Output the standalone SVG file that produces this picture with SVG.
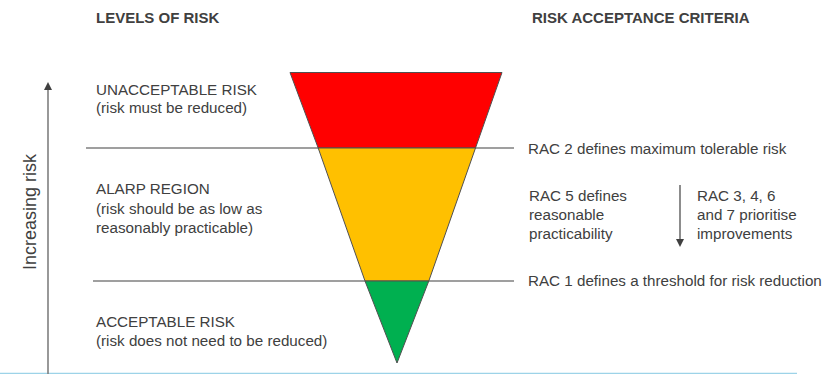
<svg xmlns="http://www.w3.org/2000/svg" width="826" height="374" viewBox="0 0 826 374">
<style>
text{font-family:"Liberation Sans",Arial,sans-serif;fill:#404040;font-size:15.2px}
.h{font-weight:bold;font-size:15px}
.ln{stroke:#7f7f7f;stroke-width:1.3;fill:none}
.tri{stroke:#505050;stroke-width:1}
</style>
<defs>
<marker id="ah" markerWidth="8" markerHeight="8" refX="4" refY="4" orient="auto" markerUnits="userSpaceOnUse">
<path d="M0,0 L8,4 L0,8 z" fill="#404040"/>
</marker>
</defs>
<rect x="0" y="0" width="826" height="374" fill="#fff"/>
<line x1="0" y1="373.5" x2="797" y2="373.5" stroke="#9dd3e8" stroke-width="1.5"/>
<g id="headers">
<text class="h" x="96" y="23">LEVELS OF RISK</text>
<text class="h" x="532" y="23">RISK ACCEPTANCE CRITERIA</text>
</g>
<g id="connectors">
<line class="ln" x1="86" y1="148" x2="514" y2="148"/>
<line class="ln" x1="93" y1="281" x2="514" y2="281"/>
<line x1="48" y1="374" x2="48" y2="86" stroke="#7f7f7f" stroke-width="1.6" marker-end="url(#ah)"/>
<line x1="680" y1="185" x2="680" y2="243" stroke="#404040" stroke-width="1.2" marker-end="url(#ah)"/>
</g>
<g id="triangle">
<polygon class="tri" points="290,72.5 502,72.5 475.5,148 318.2,148" fill="#ff0000"/>
<polygon class="tri" points="318.2,148 475.5,148 428.8,281 365,281" fill="#ffc000"/>
<polygon class="tri" points="365,281 428.8,281 397,363" fill="#00b050"/>
</g>
<g id="axis-label">
<text x="36" y="212" text-anchor="middle" transform="rotate(-90 36 212)" style="font-size:18px">Increasing risk</text>
</g>
<g id="unacceptable">
<text x="96" y="95">UNACCEPTABLE RISK</text>
<text x="96" y="113">(risk must be reduced)</text>
</g>
<g id="alarp">
<text x="96" y="194">ALARP REGION</text>
<text x="96" y="213.5">(risk should be as low as</text>
<text x="96" y="233">reasonably practicable)</text>
</g>
<g id="acceptable">
<text x="96" y="327">ACCEPTABLE RISK</text>
<text x="96" y="346">(risk does not need to be reduced)</text>
</g>
<g id="rac2"><text x="528" y="154">RAC 2 defines maximum tolerable risk</text></g>
<g id="rac5">
<text x="529" y="201">RAC 5 defines</text>
<text x="529" y="220">reasonable</text>
<text x="529" y="239">practicability</text>
</g>
<g id="rac3467">
<text x="697" y="201">RAC 3, 4, 6</text>
<text x="697" y="220">and 7 prioritise</text>
<text x="697" y="239">improvements</text>
</g>
<g id="rac1"><text x="528" y="286">RAC 1 defines a threshold for risk reduction</text></g>
</svg>
